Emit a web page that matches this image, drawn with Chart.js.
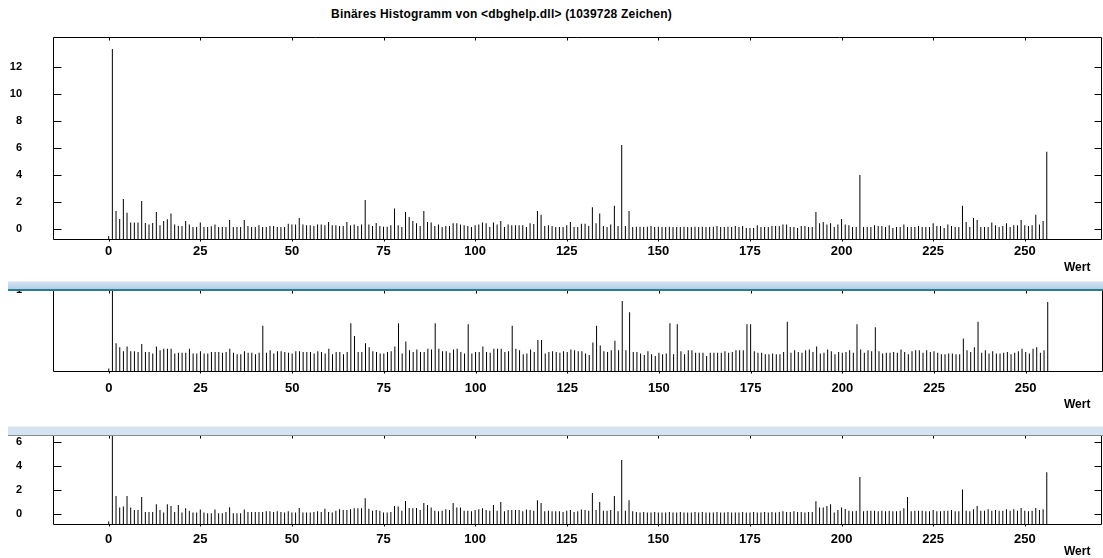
<!DOCTYPE html>
<html>
<head>
<meta charset="utf-8">
<title>Binäres Histogramm</title>
<script src="https://cdn.jsdelivr.net/npm/chart.js@4.4.1/dist/chart.umd.min.js"></script>
<style>
  body { margin: 0; width: 1103px; height: 558px; background: #fff; position: relative; overflow: hidden;
         font-family: "Liberation Sans", Arial, sans-serif; }
  canvas { position: absolute; left: 0; }
  #title { position: absolute; left: 0; top: 7px; width: 1003px; text-align: center;
           font-weight: bold; font-size: 12px; letter-spacing: 0.2px; color: #000; }
  .split { position: absolute; left: 8px; width: 1095px; z-index: 2; }
</style>
</head>
<body>
<div id="title">Binäres Histogramm von &lt;dbghelp.dll&gt; (1039728 Zeichen)</div>
<canvas id="c1" width="1103" height="282" style="top:0"></canvas>
<canvas id="c2" width="1103" height="140" style="top:276px"></canvas>
<canvas id="c3" width="1103" height="132" style="top:426px"></canvas>
<div class="split" style="top:281px;height:7px;border-top:1px solid #ebebeb;border-bottom:2px solid #2d7b8b;background:linear-gradient(#d2e3f4,#b3cde8)"></div>
<div class="split" style="top:426px;height:8px;border-top:1px solid #eeeeee;border-bottom:1px solid #8c8c8c;background:#d4e3f2"></div>

<script>
// byte values 0..256 on the x axis
var byteValues = Array.from({ length: 257 }, function (_, i) { return i; });

var xTicks = [0, 25, 50, 75, 100, 125, 150, 175, 200, 225, 250];
var yTicksTop = [0, 2, 4, 6, 8, 10, 12];
var yTicksMid = [1];
var yTicksBottom = [0, 2, 4, 6];

// upper panel
var absValues = [
  -0.55, 13.36, 1.31, 0.72, 2.2, 1.19, 0.45, 0.45, 0.45, 2.06,
  0.42, 0.3, 0.42, 1.24, 0.25, 0.57, 0.69, 1.12, 0.3, 0.2,
  0.2, 0.57, 0.3, 0.12, 0.12, 0.45, 0.12, 0.12, 0.17, 0.3,
  0.12, 0.12, 0.12, 0.64, 0.12, 0.12, 0.12, 0.64, 0.2, 0.12,
  0.12, 0.25, 0.12, 0.12, 0.2, 0.2, 0.12, 0.12, 0.12, 0.37,
  0.3, 0.3, 0.8, 0.3, 0.25, 0.25, 0.2, 0.3, 0.3, 0.25,
  0.5, 0.25, 0.25, 0.2, 0.2, 0.5, 0.25, 0.3, 0.2, 0.3,
  2.13, 0.3, 0.2, 0.42, 0.2, 0.15, 0.15, 0.25, 1.5, 0.25,
  0.12, 1.24, 0.87, 0.57, 0.4, 0.2, 1.31, 0.5, 0.45, 0.2,
  0.3, 0.12, 0.2, 0.2, 0.4, 0.4, 0.3, 0.25, 0.2, 0.12,
  0.25, 0.3, 0.45, 0.4, 0.12, 0.45, 0.3, 0.57, 0.12, 0.3,
  0.25, 0.25, 0.25, 0.25, 0.12, 0.4, 0.35, 1.31, 1.04, 0.2,
  0.25, 0.2, 0.12, 0.12, 0.12, 0.25, 0.5, 0.12, 0.12, 0.37,
  0.37, 0.2, 1.59, 0.4, 1.12, 0.2, 0.12, 0.3, 1.71, 0.2,
  6.22, 0.2, 1.31, 0.12, 0.15, 0.15, 0.12, 0.15, 0.2, 0.12,
  0.15, 0.12, 0.12, 0.15, 0.12, 0.12, 0.12, 0.15, 0.12, 0.12,
  0.15, 0.12, 0.15, 0.12, 0.12, 0.15, 0.2, 0.12, 0.12, 0.15,
  0.12, 0.2, 0.12, 0.2, 0.05, 0.05, 0.05, 0.25, 0.12, 0.12,
  0.12, 0.2, 0.2, 0.2, 0.3, 0.3, 0.12, 0.12, 0.05, 0.2,
  0.2, 0.12, 0.12, 1.24, 0.4, 0.5, 0.3, 0.4, 0.12, 0.3,
  0.72, 0.3, 0.25, 0.12, 0.12, 3.99, 0.12, 0.12, 0.12, 0.25,
  0.2, 0.2, 0.12, 0.25, 0.05, 0.12, 0.12, 0.3, 0.12, 0.12,
  0.12, 0.2, 0.12, 0.12, 0.12, 0.4, 0.2, 0.2, 0.05, 0.3,
  0.2, 0.12, 0.12, 1.71, 0.5, 0.12, 0.8, 0.64, 0.12, 0.12,
  0.12, 0.45, 0.25, 0.12, 0.2, 0.4, 0.12, 0.25, 0.25, 0.64,
  0.25, 0.2, 0.25, 1.04, 0.3, 0.57, 5.72
];

// middle panel
var normValues = [
  0.01, 1.0, 0.33, 0.28, 0.23, 0.29, 0.23, 0.23, 0.22, 0.32,
  0.22, 0.22, 0.2, 0.29, 0.24, 0.26, 0.26, 0.26, 0.2, 0.21,
  0.21, 0.21, 0.26, 0.2, 0.2, 0.23, 0.2, 0.2, 0.22, 0.22,
  0.22, 0.21, 0.22, 0.26, 0.21, 0.19, 0.19, 0.23, 0.21, 0.21,
  0.19, 0.21, 0.55, 0.21, 0.24, 0.2, 0.23, 0.23, 0.22, 0.21,
  0.2, 0.23, 0.23, 0.22, 0.22, 0.22, 0.2, 0.23, 0.22, 0.2,
  0.26, 0.19, 0.22, 0.22, 0.19, 0.22, 0.58, 0.42, 0.22, 0.22,
  0.33, 0.28, 0.23, 0.22, 0.2, 0.2, 0.22, 0.23, 0.29, 0.58,
  0.2, 0.35, 0.24, 0.22, 0.25, 0.22, 0.22, 0.26, 0.25, 0.58,
  0.26, 0.23, 0.23, 0.21, 0.25, 0.26, 0.22, 0.2, 0.57, 0.2,
  0.22, 0.22, 0.29, 0.22, 0.21, 0.26, 0.26, 0.26, 0.22, 0.23,
  0.55, 0.26, 0.24, 0.19, 0.2, 0.25, 0.22, 0.37, 0.37, 0.2,
  0.22, 0.23, 0.22, 0.21, 0.23, 0.22, 0.25, 0.24, 0.23, 0.23,
  0.2, 0.18, 0.34, 0.55, 0.3, 0.23, 0.22, 0.24, 0.36, 0.24,
  0.86, 0.24, 0.72, 0.22, 0.22, 0.2, 0.18, 0.23, 0.19, 0.17,
  0.21, 0.19, 0.2, 0.58, 0.19, 0.57, 0.23, 0.19, 0.24, 0.24,
  0.21, 0.21, 0.21, 0.17, 0.21, 0.21, 0.21, 0.21, 0.23, 0.21,
  0.22, 0.24, 0.24, 0.24, 0.57, 0.57, 0.23, 0.21, 0.21, 0.19,
  0.19, 0.2, 0.19, 0.19, 0.22, 0.6, 0.21, 0.24, 0.22, 0.21,
  0.24, 0.25, 0.22, 0.29, 0.2, 0.21, 0.25, 0.23, 0.19, 0.22,
  0.21, 0.22, 0.24, 0.21, 0.57, 0.25, 0.21, 0.24, 0.23, 0.53,
  0.23, 0.2, 0.21, 0.21, 0.22, 0.21, 0.25, 0.22, 0.19, 0.23,
  0.24, 0.24, 0.21, 0.24, 0.22, 0.23, 0.21, 0.19, 0.19, 0.2,
  0.2, 0.19, 0.19, 0.39, 0.24, 0.22, 0.28, 0.6, 0.21, 0.24,
  0.2, 0.23, 0.2, 0.2, 0.21, 0.22, 0.19, 0.21, 0.23, 0.26,
  0.22, 0.2, 0.26, 0.28, 0.21, 0.24, 0.85
];

// lower panel
var relValues = [
  -0.6, 9, 1.53, 0.56, 0.64, 1.53, 0.56, 0.36, 0.36, 1.44,
  0.19, 0.19, 0.19, 0.83, 0.36, 0.14, 0.83, 0.69, 0.19, 0.78,
  0.14, 0.5, 0.3, 0.14, 0.14, 0.39, 0.14, 0.08, 0.08, 0.39,
  0.08, 0.08, 0.19, 0.58, 0.08, 0.08, 0.08, 0.39, 0.19, 0.19,
  0.19, 0.19, 0.19, 0.25, 0.25, 0.19, 0.25, 0.19, 0.14, 0.25,
  0.14, 0.14, 0.53, 0.14, 0.14, 0.14, 0.19, 0.25, 0.19, 0.47,
  0.19, 0.14, 0.3, 0.42, 0.36, 0.36, 0.42, 0.5, 0.5, 0.5,
  1.33, 0.47, 0.3, 0.36, 0.3, 0.14, 0.14, 0.19, 0.69, 0.64,
  0.3, 1.11, 0.53, 0.5, 0.53, 0.36, 0.94, 0.78, 0.56, 0.3,
  0.25, 0.3, 0.42, 0.36, 0.94, 0.56, 0.56, 0.3, 0.3, 0.25,
  0.36, 0.42, 0.5, 0.36, 0.3, 0.78, 0.3, 1.03, 0.25, 0.36,
  0.36, 0.36, 0.36, 0.25, 0.39, 0.36, 0.3, 1.17, 0.94, 0.25,
  0.3, 0.25, 0.25, 0.25, 0.19, 0.3, 0.36, 0.19, 0.25, 0.39,
  0.36, 0.3, 1.78, 0.36, 1.03, 0.3, 0.3, 0.36, 1.53, 0.25,
  4.53, 0.3, 1.17, 0.25, 0.19, 0.14, 0.19, 0.14, 0.14, 0.19,
  0.14, 0.14, 0.14, 0.19, 0.14, 0.14, 0.19, 0.14, 0.14, 0.14,
  0.19, 0.14, 0.19, 0.14, 0.14, 0.14, 0.19, 0.14, 0.14, 0.19,
  0.14, 0.14, 0.14, 0.19, 0.14, 0.14, 0.19, 0.14, 0.14, 0.19,
  0.14, 0.19, 0.14, 0.19, 0.25, 0.19, 0.19, 0.25, 0.19, 0.19,
  0.14, 0.19, 0.19, 1.08, 0.56, 0.56, 0.69, 0.83, 0.14, 0.36,
  0.56, 0.45, 0.3, 0.25, 0.3, 3.11, 0.25, 0.3, 0.3, 0.3,
  0.25, 0.3, 0.25, 0.3, 0.25, 0.25, 0.3, 0.5, 1.44, 0.25,
  0.3, 0.3, 0.3, 0.25, 0.25, 0.36, 0.25, 0.25, 0.3, 0.3,
  0.36, 0.25, 0.25, 2.06, 0.3, 0.25, 0.42, 0.69, 0.3, 0.3,
  0.42, 0.3, 0.36, 0.3, 0.3, 0.42, 0.3, 0.42, 0.3, 0.53,
  0.3, 0.25, 0.3, 0.53, 0.36, 0.42, 3.5
];

var FONT = '"Liberation Sans", Arial, sans-serif';

// frame with inward ticks, like the old windows plot
var framePlugin = {
  id: 'frame',
  afterDatasetsDraw: function (chart, args, opts) {
    var ctx = chart.ctx, a = chart.chartArea, x = chart.scales.x, y = chart.scales.y;
    var L = Math.round(a.left) + 0.5, R = Math.round(a.right) + 0.5;
    var T = Math.round(a.top) + 0.5, B = Math.round(a.bottom) + 0.5;
    ctx.save();
    ctx.strokeStyle = '#000';
    ctx.lineWidth = 1;
    ctx.beginPath();
    ctx.rect(L, T, R - L, B - T);
    y.ticks.forEach(function (t) {
      var py = Math.round(y.getPixelForValue(t.value)) + 0.5;
      ctx.moveTo(L, py); ctx.lineTo(L + 8, py);
      ctx.moveTo(R, py); ctx.lineTo(R - 7, py);
    });
    x.ticks.forEach(function (t) {
      var px = Math.round(x.getPixelForValue(t.value)) + 0.5;
      ctx.moveTo(px, T); ctx.lineTo(px, T + 3);
      ctx.moveTo(px, B); ctx.lineTo(px, B + 2);
    });
    ctx.stroke();
    ctx.fillStyle = '#000';
    ctx.font = 'bold 12px ' + FONT;
    ctx.textBaseline = 'middle';
    ctx.fillText(opts.axisTitle, 1064, opts.titleY);
    ctx.restore();
  }
};

function makePanel(id, values, yTicks, g) {
  var points = byteValues.map(function (b, i) { return { x: b, y: values[i] }; });
  return new Chart(document.getElementById(id), {
    type: 'bar',
    data: {
      datasets: [{
        data: points,
        backgroundColor: '#000',
        barThickness: 1,
        inflateAmount: 0,
        base: g.yMin
      }]
    },
    options: {
      responsive: false,
      animation: false,
      devicePixelRatio: 1,
      layout: { autoPadding: false, padding: { top: g.top, right: g.right, left: 0, bottom: 0 } },
      plugins: {
        legend: { display: false },
        tooltip: { enabled: false },
        frame: { axisTitle: 'Wert', titleY: g.titleY }
      },
      scales: {
        x: {
          type: 'linear',
          offset: false,
          min: -15.2,
          max: 270.8,
          afterBuildTicks: function (s) { s.ticks = xTicks.map(function (v) { return { value: v }; }); },
          afterFit: function (s) { s.height = g.xAxisH; s.paddingLeft = 0; s.paddingRight = 0; },
          grid: { display: false, drawTicks: false, offset: false },
          border: { display: false },
          ticks: { color: '#000', padding: g.labelPad, maxRotation: 0, autoSkip: false,
                   font: { family: FONT, size: 13, weight: 'bold' } }
        },
        y: {
          min: g.yMin,
          max: g.yMax,
          afterBuildTicks: function (s) { s.ticks = yTicks.map(function (v) { return { value: v }; }); },
          // keep the label offset from pushing the plot area down
          afterFit: function (s) { s.width = 53; s.paddingTop = 0; s.paddingBottom = 0; },
          grid: { display: false, drawTicks: false },
          border: { display: false },
          ticks: { color: '#000', padding: 31, font: { family: FONT, size: 11, weight: 'bold' } }
        }
      }
    },
    plugins: [framePlugin]
  });
}

makePanel('c1', absValues, yTicksTop,
  { top: 37, right: 2, xAxisH: 43, labelPad: 5, titleY: 268, yMin: -0.77, yMax: 14.25 });
makePanel('c2', normValues, yTicksMid,
  { top: 14, right: 1, xAxisH: 45, labelPad: 10, titleY: 129, yMin: -0.02, yMax: 1.0 });
makePanel('c3', relValues, yTicksBottom,
  { top: 9, right: 2, xAxisH: 34, labelPad: 8, titleY: 125.7, yMin: -0.81, yMax: 6.61 });
</script>
</body>
</html>
